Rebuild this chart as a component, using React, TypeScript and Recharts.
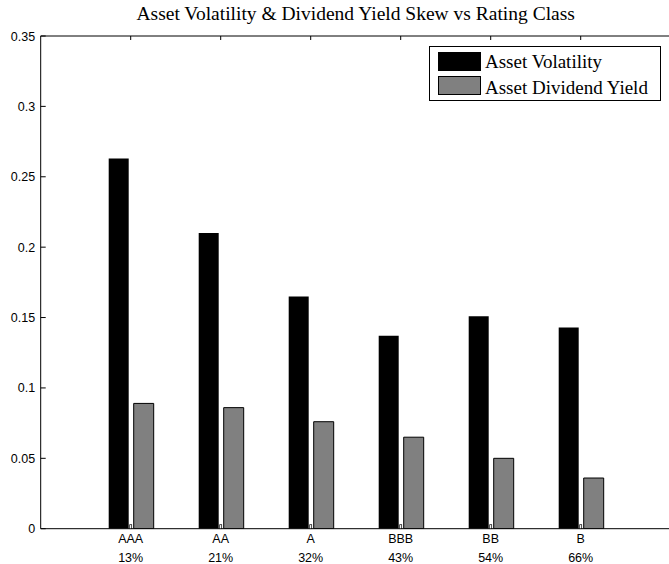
import { BarChart, Bar, XAxis, YAxis, Legend } from "recharts";

const RATINGS = ["AAA", "AA", "A", "BBB", "BB", "B"];
const DEFAULT_PCT = ["13%", "21%", "32%", "43%", "54%", "66%"];
const ASSET_VOL = [0.263, 0.21, 0.165, 0.137, 0.151, 0.143];
const DIV_YIELD = [0.089, 0.086, 0.076, 0.065, 0.05, 0.036];

const Y_TICKS = [0, 0.05, 0.1, 0.15, 0.2, 0.25, 0.3, 0.35];
const Y_LABELS = ["0", "0.05", "0.1", "0.15", "0.2", "0.25", "0.3", "0.35"];

const SERIES = [
  { key: "vol", name: "Asset Volatility", color: "#000000" },
  { key: "div", name: "Asset Dividend Yield", color: "#808080" },
];

const data = RATINGS.map((r, i) => ({
  rating: r,
  pct: DEFAULT_PCT[i],
  vol: ASSET_VOL[i],
  div: DIV_YIELD[i],
}));

const tickFont = { fontFamily: "'Liberation Sans', Arial, sans-serif", fontSize: 12.5 };
const serif = "'Liberation Serif', 'Times New Roman', serif";

function BottomTick(props: any) {
  const { x, y, index } = props;
  return (
    <g>
      <rect x={x - 1} y={y - 4} width={2} height={4} fill="#fff" stroke="#000" strokeWidth={0.7} />
      <text x={x} y={y + 14.5} textAnchor="middle" fill="#000" style={tickFont}>
        {RATINGS[index]}
      </text>
      <text x={x} y={y + 33} textAnchor="middle" fill="#000" style={tickFont}>
        {DEFAULT_PCT[index]}
      </text>
    </g>
  );
}

function TopTick(props: any) {
  const { x, y } = props;
  return <line x1={x} y1={y} x2={x} y2={y + 4} stroke="#000" strokeWidth={1} />;
}

function LeftTick(props: any) {
  const { x, y, index } = props;
  return (
    <g>
      <line x1={x} y1={y} x2={x + 5} y2={y} stroke="#000" strokeWidth={1} />
      <text x={x - 5.5} y={y} dy="0.36em" textAnchor="end" fill="#000" style={tickFont}>
        {Y_LABELS[index]}
      </text>
    </g>
  );
}

function RightTick(props: any) {
  const { x, y } = props;
  return <line x1={x - 5} y1={y} x2={x} y2={y} stroke="#000" strokeWidth={1} />;
}

function LegendBox() {
  return (
    <div
      style={{
        position: "relative",
        width: 232,
        height: 55.5,
        boxSizing: "border-box",
        border: "1px solid #000",
        background: "#fff",
      }}
    >
      {SERIES.map((s, i) => (
        <div key={s.key}>
          <div
            style={{
              position: "absolute",
              left: 7.5,
              top: i === 0 ? 5 : 29.5,
              width: 43,
              height: 19,
              boxSizing: "border-box",
              background: s.color,
              border: "1px solid #000",
            }}
          />
          <div
            style={{
              position: "absolute",
              left: 55,
              top: i === 0 ? 5.5 : 31.5,
              fontFamily: serif,
              fontSize: 19,
              lineHeight: "19px",
              whiteSpace: "nowrap",
              color: "#000",
            }}
          >
            {s.name}
          </div>
        </div>
      ))}
    </div>
  );
}

export default function App() {
  return (
    <div
      style={{
        position: "absolute",
        left: 0,
        top: 0,
        width: 669,
        height: 564,
        overflow: "hidden",
        background: "#fff",
      }}
    >
      <div
        style={{
          position: "absolute",
          left: 40.7,
          width: 630,
          top: 4,
          textAlign: "center",
          fontFamily: serif,
          fontSize: 19.5,
          lineHeight: "19px",
          color: "#000",
          whiteSpace: "nowrap",
          zIndex: 2,
        }}
      >
        Asset Volatility &amp; Dividend Yield Skew vs Rating Class
      </div>
      <BarChart
        width={680}
        height={564}
        data={data}
        margin={{ top: 0, right: 9.3, left: 0, bottom: 0 }}
        barSize={20}
        barGap={5}
      >
        <XAxis
          xAxisId="top"
          orientation="top"
          dataKey="rating"
          height={36}
          padding={{ left: 45, right: 45 }}
          interval={0}
          tickSize={0}
          tickMargin={0}
          tickLine={false}
          axisLine={{ stroke: "#000", strokeWidth: 1 }}
          tick={TopTick}
        />
        <XAxis
          xAxisId="bottom"
          dataKey="rating"
          height={35.3}
          padding={{ left: 45, right: 45 }}
          interval={0}
          tickSize={0}
          tickMargin={0}
          tickLine={false}
          axisLine={{ stroke: "#000", strokeWidth: 1 }}
          tick={BottomTick}
        />
        <YAxis
          yAxisId="left"
          width={40.7}
          type="number"
          domain={[0, 0.35]}
          ticks={Y_TICKS}
          interval={0}
          allowDataOverflow
          tickSize={0}
          tickMargin={0}
          tickLine={false}
          axisLine={{ stroke: "#000", strokeWidth: 1 }}
          tick={LeftTick}
        />
        <YAxis
          yAxisId="right"
          orientation="right"
          width={0}
          type="number"
          domain={[0, 0.35]}
          ticks={Y_TICKS}
          interval={0}
          allowDataOverflow
          tickSize={0}
          tickMargin={0}
          tickLine={false}
          axisLine={{ stroke: "#000", strokeWidth: 1 }}
          tick={RightTick}
        />
        <Legend
          layout="horizontal"
          verticalAlign="middle"
          align="center"
          content={() => <LegendBox />}
          wrapperStyle={{ position: "absolute", left: 429, top: 45.7, width: 232, height: 56 }}
        />
        {SERIES.map((s) => (
          <Bar
            key={s.key}
            xAxisId="bottom"
            yAxisId="left"
            dataKey={s.key}
            name={s.name}
            fill={s.color}
            stroke={s.key === "div" ? "#000" : "none"}
            strokeWidth={1}
            isAnimationActive={false}
          />
        ))}
      </BarChart>
    </div>
  );
}
